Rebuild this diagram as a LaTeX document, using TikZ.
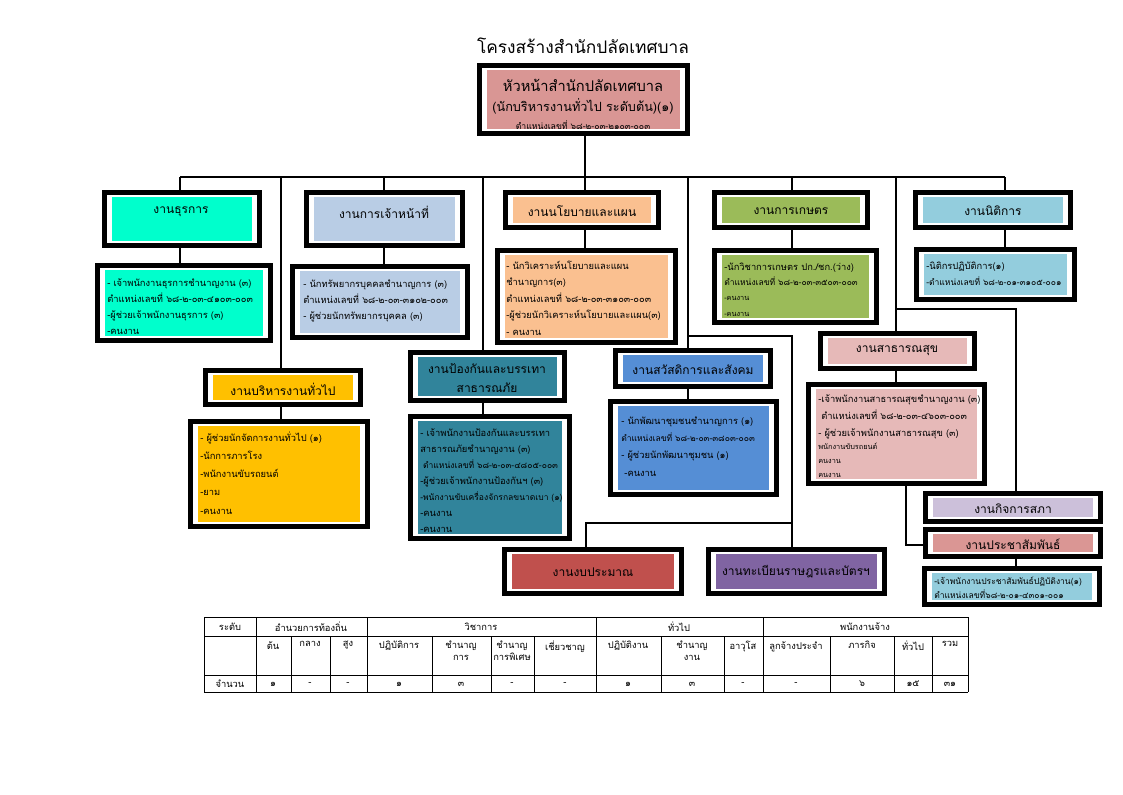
\documentclass[tikz,border=0pt]{standalone}
\usepackage{fontspec}
\setmainfont[Script=Thai]{Loma}
\usetikzlibrary{fit}
\definecolor{cTop}{HTML}{D99694}
\definecolor{cA}{HTML}{00FFCC}
\definecolor{cB}{HTML}{B9CDE5}
\definecolor{cC}{HTML}{FAC090}
\definecolor{cD}{HTML}{9BBB59}
\definecolor{cE}{HTML}{93CDDD}
\definecolor{cF}{HTML}{FFC000}
\definecolor{cG}{HTML}{31849B}
\definecolor{cH}{HTML}{558ED5}
\definecolor{cI}{HTML}{E6B9B8}
\definecolor{cJ}{HTML}{CCC0DA}
\definecolor{cK}{HTML}{DA9694}
\definecolor{cL}{HTML}{C0504D}
\definecolor{cM}{HTML}{8064A2}
\newcommand\sm{\fontsize{5.5}{7}\selectfont}
\newcommand\smb{\fontsize{6.4}{8}\selectfont}
\newcommand\lns[1]{\vtop{\halign{##\hfil\cr#1\crcr}}}
\tikzset{
 frame/.style={draw=black, line width=3.75pt, fill=white, inner sep=0pt},
 fillbox/.style={inner sep=0pt, draw=none},
 conn/.style={draw=black, line width=1.2pt},
 tline/.style={draw=black, line width=0.6pt},
 head/.style={font=\fontsize{9}{14}\selectfont, inner sep=0pt, align=center},
 body/.style={anchor=base west, inner sep=0pt, font=\fontsize{7}{12}\selectfont},
 tcell/.style={font=\fontsize{7}{8.5}\selectfont, inner sep=0pt, align=center},
}
\newcommand\obox[6]{%
  \node[frame, fit={(#2+2.5,#3+2.5) (#4-2.5,#5-2.5)}] (#1) {};
  \node[fillbox, fill=#6, fit={(#2+10,#3+7) (#4-10,#5-7)}] (#1in) {};
}
\begin{document}
\begin{tikzpicture}[x=0.75pt,y=-0.75pt]
\useasboundingbox[fill=white] (0,0) rectangle (1123,794);

\node[font=\fontsize{13}{15}\selectfont, inner sep=0pt] (title) at (583,46) {โครงสร้างสำนักปลัดเทศบาล};

% boxes
\obox{top}{477}{63}{690}{136}{cTop}
\obox{B1}{102}{190}{262}{248}{cA}
\obox{C1}{95}{263}{273}{343}{cA}
\obox{B2}{304}{190}{465}{248}{cB}
\obox{C2}{290}{264}{470}{340}{cB}
\obox{B3}{503}{190}{661}{230}{cC}
\obox{C3}{495}{248}{678}{345}{cC}
\obox{B4}{712}{190}{870}{230}{cD}
\obox{C4}{712}{248}{879}{325}{cD}
\obox{B5}{913}{190}{1073}{230}{cE}
\obox{C5}{914}{247}{1077}{302}{cE}
\obox{B6}{203}{368}{363}{407}{cF}
\obox{C6}{188}{419}{370}{529}{cF}
\obox{B7}{408}{350}{567}{403}{cG}
\obox{C7}{408}{414}{572}{541}{cG}
\obox{B8}{613}{348}{773}{389}{cH}
\obox{C8}{608}{399}{779}{497}{cH}
\obox{B9}{818}{331}{977}{371}{cI}
\obox{C9}{806}{382}{987}{486}{cI}
\obox{B10}{923}{491}{1103}{524}{cJ}
\obox{B11}{923}{527}{1103}{559}{cK}
\obox{C11}{922}{566}{1102}{607}{cE}
\obox{B12}{502}{547}{684}{596}{cL}
\obox{B13}{706}{547}{887}{596}{cM}

% top box text
\node[font=\fontsize{11}{13}\selectfont, inner sep=0pt] (t1) at (583,85) {หัวหน้าสำนักปลัดเทศบาล};
\node[font=\fontsize{9.5}{12}\selectfont, inner sep=0pt] (t2) at (583,106) {(นักบริหารงานทั่วไป ระดับต้น)(๑)};
\node[font=\fontsize{6.5}{8}\selectfont, inner sep=0pt] (t3) at (583,125) {ตำแหน่งเลขที่ ๖๘-๒-๐๓-๒๑๐๓-๐๐๓};

% headings
\node[head] (h1) at (181,212) {งานธุรการ};
\node[head] (h2) at (384,212) {งานการเจ้าหน้าที่};
\node[head] (h3) at (582,211) {งานนโยบายและแผน};
\node[head] (h4) at (791,211) {งานการเกษตร};
\node[head] (h5) at (993,211) {งานนิติการ};
\node[head] (h6) at (283,389) {งานบริหารงานทั่วไป};
\node[head] (h7) at (487,378) {งานป้องกันและบรรเทา\\สาธารณภัย};
\node[head] (h8) at (693,370) {งานสวัสดิการและสังคม};
\node[head] (h9) at (897,351) {งานสาธารณสุข};
\node[head] (h10) at (1013,509) {งานกิจการสภา};
\node[head] (h11) at (1013,544) {งานประชาสัมพันธ์};
\node[head] (h12) at (593,572) {งานงบประมาณ};
\node[head] (h13) at (796,572) {งานทะเบียนราษฎรและบัตรฯ};

% contents
\node[body] (b1) at (107,286) {\lns{- เจ้าพนักงานธุรการชำนาญงาน (๓)\cr ตำแหน่งเลขที่ ๖๘-๒-๐๓-๔๑๐๓-๐๐๓\cr -ผู้ช่วยเจ้าพนักงานธุรการ (๓)\cr -คนงาน}};
\node[body] (b2) at (303,287) {\lns{- นักทรัพยากรบุคคลชำนาญการ (๓)\cr ตำแหน่งเลขที่ ๖๘-๒-๐๓-๓๑๐๒-๐๐๓\cr - ผู้ช่วยนักทรัพยากรบุคคล (๓)}};
\node[body, font=\fontsize{7}{12.4}\selectfont] (b3) at (506,269) {\lns{- นักวิเคราะห์นโยบายและแผน\cr ชำนาญการ(๓)\cr ตำแหน่งเลขที่ ๖๘-๒-๐๓-๓๑๐๓-๐๐๓\cr -ผู้ช่วยนักวิเคราะห์นโยบายและแผน(๓)\cr - คนงาน}};
\node[body, font=\fontsize{7}{11.5}\selectfont] (b4) at (724,270) {\lns{-นักวิชาการเกษตร ปก./ชก.(ว่าง)\cr {\smb ตำแหน่งเลขที่ ๖๘-๒-๐๓-๓๕๐๓-๐๐๓}\cr {\sm -คนงาน}\cr {\sm -คนงาน}}};
\node[body] (b5) at (926,269) {\lns{-นิติกรปฏิบัติการ(๑)\cr {\smb -ตำแหน่งเลขที่ ๖๘-๒-๐๑-๓๑๐๕-๐๐๑}}};
\node[body, font=\fontsize{7}{13.7}\selectfont] (b6) at (200,441) {\lns{- ผู้ช่วยนักจัดการงานทั่วไป (๑)\cr -นักการภารโรง\cr -พนักงานขับรถยนต์\cr -ยาม\cr -คนงาน}};
\node[body] (b7) at (420,436) {\lns{- เจ้าพนักงานป้องกันและบรรเทา\cr สาธารณภัยชำนาญงาน (๓)\cr {\smb\ ตำแหน่งเลขที่ ๖๘-๒-๐๓-๔๘๐๕-๐๐๓}\cr -ผู้ช่วยเจ้าพนักงานป้องกันฯ (๓)\cr {\smb -พนักงานขับเครื่องจักรกลขนาดเบา (๑)}\cr -คนงาน\cr -คนงาน}};
\node[body, font=\fontsize{7}{13}\selectfont] (b8) at (621,424) {\lns{- นักพัฒนาชุมชนชำนาญการ (๑)\cr {\smb ตำแหน่งเลขที่ ๖๘-๒-๐๓-๓๘๐๓-๐๐๓}\cr - ผู้ช่วยนักพัฒนาชุมชน (๑)\cr \ -คนงาน}};
\node[body, font=\fontsize{7}{12.8}\selectfont] (b9) at (818,402) {\lns{-เจ้าพนักงานสาธารณสุขชำนาญงาน (๓)\cr \ ตำแหน่งเลขที่ ๖๘-๒-๐๓-๔๖๐๓-๐๐๓\cr - ผู้ช่วยเจ้าพนักงานสาธารณสุข (๓)\cr\noalign{\vskip-2.5pt} {\sm พนักงานขับรถยนต์}\cr\noalign{\vskip-2.5pt} {\sm คนงาน}\cr\noalign{\vskip-2.5pt} {\sm คนงาน}}};
\node[body, font=\fontsize{6.4}{11}\selectfont] (b11) at (934,584) {\lns{-เจ้าพนักงานประชาสัมพันธ์ปฏิบัติงาน(๑)\cr ตำแหน่งเลขที่๖๘-๒-๐๑-๔๓๐๑-๐๐๑}};

% connectors
\coordinate (barL) at (180,177);
\coordinate (barR) at (1005,177);
\coordinate (jTop) at (585,177);
\coordinate (x281) at (281,177);
\coordinate (x384) at (384,177);
\coordinate (x483) at (483,177);
\coordinate (x688) at (688,177);
\coordinate (x792) at (792,177);
\coordinate (x896) at (896,177);
\coordinate (x1016) at (1016,309);
\coordinate (k1) at (906,545);
\coordinate (m1) at (792,336);
\coordinate (m2) at (586,523);
\draw[conn] (jTop |- top.south) -- (jTop);
\draw[conn] (barL) -- (barR);
\draw[conn] (barL) -- (barL |- B1.north);
\draw[conn] (x281) -- (x281 |- B6.north);
\draw[conn] (x384) -- (x384 |- B2.north);
\draw[conn] (x483) -- (x483 |- B7.north);
\draw[conn] (jTop) -- (jTop |- B3.north);
\draw[conn] (x688) -- (x688 |- B8.north);
\draw[conn] (x792) -- (x792 |- B4.north);
\draw[conn] (x896) -- (x896 |- B9.north);
\draw[conn] (barR) -- (barR |- B5.north);
\draw[conn] (barL |- B1.south) -- (barL |- C1.north);
\draw[conn] (x384 |- B2.south) -- (x384 |- C2.north);
\draw[conn] (jTop |- B3.south) -- (jTop |- C3.north);
\draw[conn] (x792 |- B4.south) -- (x792 |- C4.north);
\draw[conn] (barR |- B5.south) -- (barR |- C5.north);
\draw[conn] (x281 |- B6.south) -- (x281 |- C6.north);
\draw[conn] (x483 |- B7.south) -- (x483 |- C7.north);
\draw[conn] (x688 |- B8.south) -- (x688 |- C8.north);
\draw[conn] (x896 |- B9.south) -- (x896 |- C9.north);
\draw[conn] (x896 |- x1016) -- (x1016) -- (x1016 |- B10.north);
\draw[conn] (x1016 |- B11.south) -- (x1016 |- C11.north);
\draw[conn] (k1 |- C9.south) -- (k1) -- (k1 -| B11.west);
\draw[conn] (x688 |- m1) -- (m1) -- (m1 |- B13.north);
\draw[conn] (m1 |- m2) -- (m2) -- (m2 |- B12.north);

% table
\foreach \y in {617,636,675,692} \draw[tline] (204,\y) -- (968,\y);
\foreach \x in {204,256,367,596,763,968} \draw[tline] (\x,617) -- (\x,692);
\foreach \x in {291,330,432,491,534,661,724,830,894,932} \draw[tline] (\x,636) -- (\x,692);
\node[tcell] (r1a) at (230,627) {ระดับ};
\node[tcell] (r1b) at (311,627) {อำนวยการท้องถิ่น};
\node[tcell] (r1c) at (481,627) {วิชาการ};
\node[tcell] (r1d) at (679,627) {ทั่วไป};
\node[tcell] (r1e) at (865,627) {พนักงานจ้าง};
\node[tcell, anchor=north] (r2a) at (273,641) {ต้น};
\node[tcell, anchor=north] (r2b) at (310,641) {กลาง};
\node[tcell, anchor=north] (r2c) at (348,641) {สูง};
\node[tcell, anchor=north] (r2d) at (399,641) {ปฏิบัติการ};
\node[tcell, anchor=north] (r2e) at (461,641) {ชำนาญ\\การ};
\node[tcell, anchor=north] (r2f) at (512,641) {ชำนาญ\\การพิเศษ};
\node[tcell, anchor=north] (r2g) at (565,641) {เชี่ยวชาญ};
\node[tcell, anchor=north] (r2h) at (628,641) {ปฏิบัติงาน};
\node[tcell, anchor=north] (r2i) at (692,641) {ชำนาญ\\งาน};
\node[tcell, anchor=north] (r2j) at (743,641) {อาวุโส};
\node[tcell, anchor=north] (r2k) at (796,641) {ลูกจ้างประจำ};
\node[tcell, anchor=north] (r2l) at (862,641) {ภารกิจ};
\node[tcell, anchor=north] (r2m) at (913,641) {ทั่วไป};
\node[tcell, anchor=north] (r2n) at (950,641) {รวม};
\node[tcell] (r3a) at (230,684) {จำนวน};
\node[tcell] (r3b) at (273,684) {๑};
\node[tcell] (r3c) at (310,684) {-};
\node[tcell] (r3d) at (348,684) {-};
\node[tcell] (r3e) at (399,684) {๑};
\node[tcell] (r3f) at (461,684) {๓};
\node[tcell] (r3g) at (512,684) {-};
\node[tcell] (r3h) at (565,684) {-};
\node[tcell] (r3i) at (628,684) {๑};
\node[tcell] (r3j) at (692,684) {๓};
\node[tcell] (r3k) at (743,684) {-};
\node[tcell] (r3l) at (796,684) {-};
\node[tcell] (r3m) at (862,684) {๖};
\node[tcell] (r3n) at (913,684) {๑๕};
\node[tcell] (r3o) at (950,684) {๓๑};
\end{tikzpicture}
\end{document}
